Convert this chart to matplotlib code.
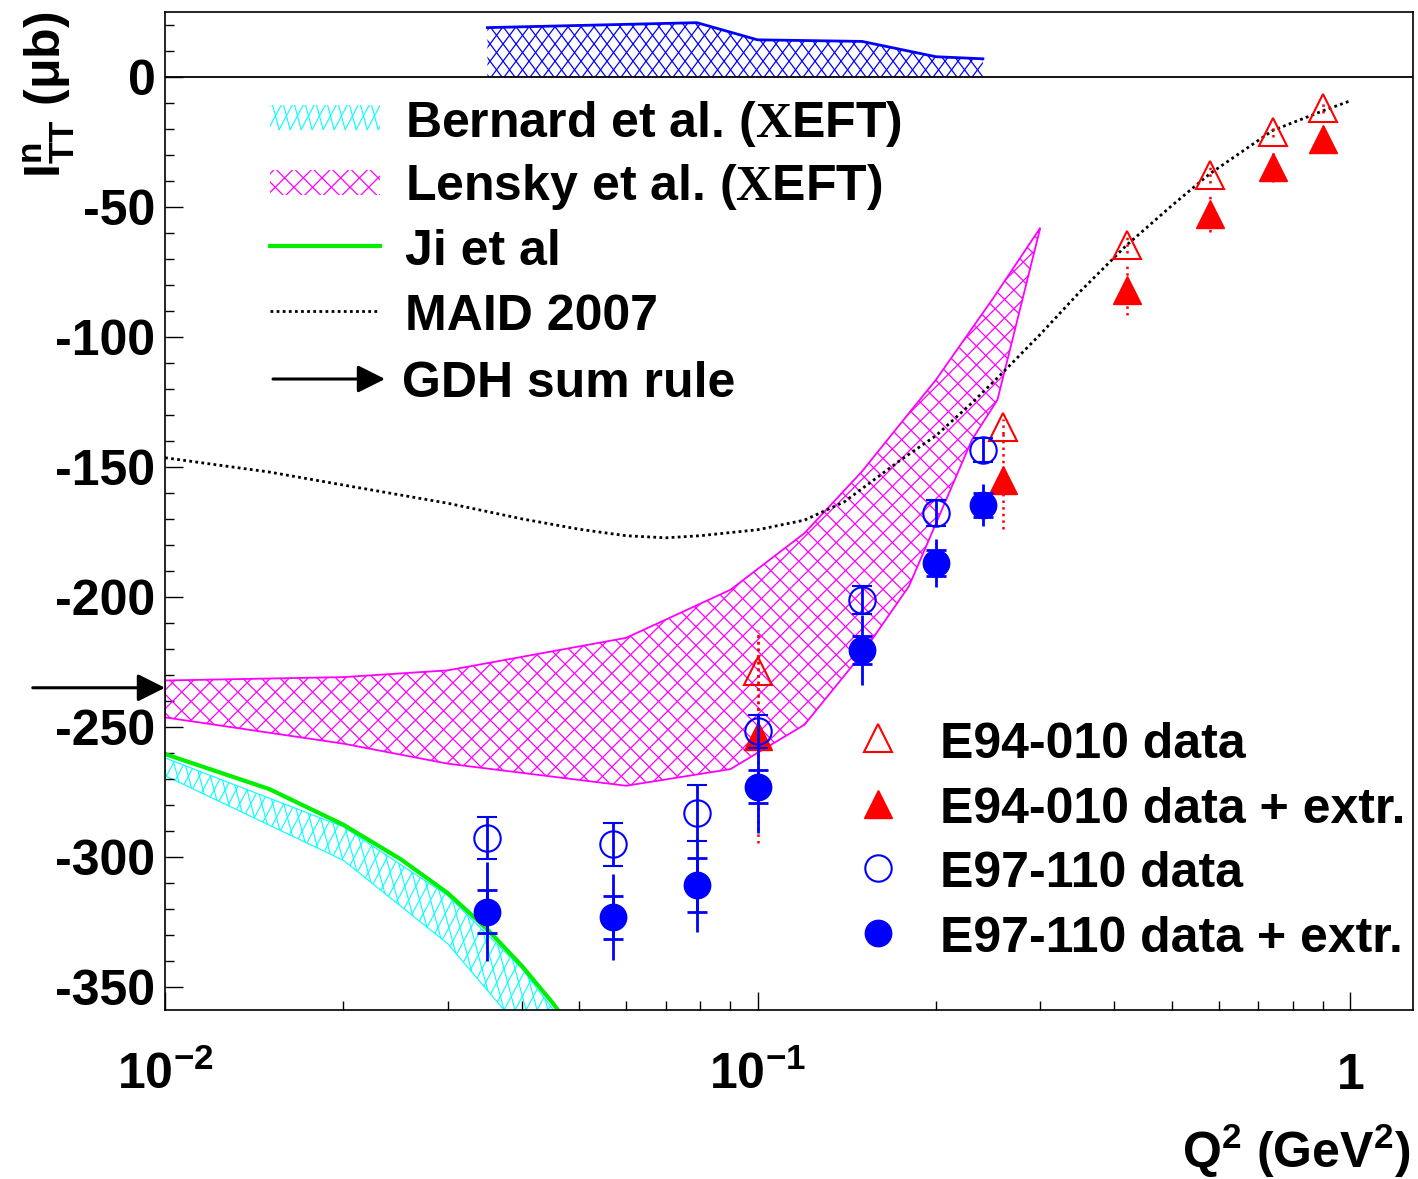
import numpy as np
import matplotlib
matplotlib.use("Agg")
import matplotlib.pyplot as plt
from matplotlib.collections import LineCollection
from matplotlib.ticker import MultipleLocator, LogLocator, NullFormatter

plt.rcParams["font.family"] = "Liberation Sans"
plt.rcParams["font.weight"] = "bold"
plt.rcParams["mathtext.fontset"] = "custom"
plt.rcParams["mathtext.rm"] = "Liberation Sans:bold"
plt.rcParams["mathtext.it"] = "Liberation Sans:bold"
plt.rcParams["mathtext.bf"] = "Liberation Sans:bold"
plt.rcParams["mathtext.tt"] = "Liberation Serif"
plt.rcParams["axes.unicode_minus"] = False

# --- E97-110 neutron I_TT ---
q2_e97 = [0.035, 0.057, 0.079, 0.10, 0.15, 0.20, 0.24]
itt_e97 = [-292.7, -295.3, -283.2, -251.8, -201.2, -167.6, -143.5]
itt_e97_stat = [8.0, 8.3, 10.6, 6.2, 5.4, 5.0, 4.7]
itt_e97_ext = [-321.2, -323.3, -310.9, -273.0, -220.4, -187.0, -164.6]
itt_e97_ext_stat = [8.3, 8.2, 10.5, 6.5, 5.4, 5.0, 4.7]
itt_e97_ext_tot = [19.0, 16.5, 18.0, 18.0, 13.5, 9.3, 8.0]

# systematic band (drawn above zero)
q2_syst = [0.035, 0.079, 0.10, 0.15, 0.20, 0.24]
syst_e97 = [19.0, 20.9, 14.3, 13.7, 7.8, 7.0]

# --- E94-010 ---
q2_e94 = [0.10, 0.26, 0.42, 0.58, 0.74, 0.90]
itt_e94 = [-228.5, -134.5, -64.7, -37.6, -21.2, -11.9]
itt_e94_err = [15, 3, 3, 3, 2, 2]
itt_e94_ext = [-253.7, -155.0, -82.0, -52.6, -34.5, -23.7]
itt_e94_ext_err = [41, 19, 9.6, 7, 6, 3]

# --- theory ---
q2_maid = [0.01, 0.015, 0.02, 0.03, 0.04, 0.05, 0.06, 0.07, 0.08, 0.10, 0.12,
           0.14, 0.174, 0.20, 0.23, 0.256, 0.30, 0.35, 0.42, 0.50, 0.58,
           0.74, 0.90, 1.0]
itt_maid = [-146.5, -152, -157, -164, -170, -174, -176.5, -177.3, -176.5,
            -174.2, -170.5, -163.5, -147.5, -138, -125.4, -115, -99, -82.6,
            -64.6, -49.5, -37.2, -20.6, -13.0, -9.2]

q2_ji = [0.01, 0.015, 0.02, 0.025, 0.03, 0.035, 0.04, 0.045, 0.05]
itt_ji = [-260.5, -274, -287.7, -301, -314, -328, -342, -356, -370]

q2_bern = [0.01, 0.02, 0.03, 0.04, 0.05]
bern_hi = [-262, -288.5, -315, -343, -372]
bern_lo = [-268.8, -301.4, -333.5, -367, -400]

q2_lensky_hi = [0.01, 0.02, 0.03, 0.06, 0.09, 0.12, 0.15, 0.18, 0.20, 0.25, 0.30]
lensky_hi = [-232.2, -230.9, -228.3, -215.8, -197.3, -175.5, -151.8, -129.4,
             -116.5, -85, -58]
q2_lensky_lo = [0.01, 0.02, 0.03, 0.06, 0.09, 0.12, 0.15, 0.18, 0.23, 0.254, 0.30]
lensky_lo = [-246.4, -256.5, -264.2, -272.7, -266.3, -249.2, -222, -196,
             -139.6, -124.2, -58]

gdh = -235

fig = plt.figure(figsize=(14.18, 11.79), dpi=100)
ax = fig.add_axes([0.1164, 0.1433, 0.8801, 0.8465])
ax.set_xscale("log")
ax.set_xlim(0.01, 1.277)
ax.set_ylim(-359, 25)
T = ax.transAxes
AX_W, AX_H = 1248.0, 998.0  # axes size in pixels


def hatch_lines(clip_patch, color, angles, step_px, lw=0.9):
    # ROOT style hatching: two families of lines, clipped to a patch
    segs = []
    for ang, sign in angles:
        shift = sign * AX_H / np.tan(np.radians(ang)) / AX_W
        for x0 in np.arange(-1.5, 2.5, step_px / AX_W):
            segs.append([(x0, 0), (x0 + shift, 1)])
    lc = LineCollection(segs, colors=color, linewidths=lw, transform=T)
    ax.add_collection(lc)
    lc.set_clip_path(clip_patch)


CYAN_HATCH = [(75, -1), (62, 1)]
MAG_HATCH = [(45, -1), (45, 1)]
BLUE_HATCH = [(53, -1), (53, 1)]

# bands
bern = ax.fill(q2_bern + q2_bern[::-1], bern_hi + bern_lo[::-1],
               facecolor="none", edgecolor="cyan", lw=0.8)[0]
hatch_lines(bern, "cyan", CYAN_HATCH, 11, lw=0.8)
lensky = ax.fill(q2_lensky_hi + q2_lensky_lo[::-1], lensky_hi + lensky_lo[::-1],
                 facecolor="none", edgecolor="magenta", lw=1.3)[0]
hatch_lines(lensky, "magenta", MAG_HATCH, 18.7)
syst = ax.fill(q2_syst + q2_syst[::-1], syst_e97 + [0] * len(q2_syst),
               facecolor="none", edgecolor="none")[0]
hatch_lines(syst, "blue", BLUE_HATCH, 13)
ax.plot(q2_syst, syst_e97, color="blue", lw=2)
ax.axhline(0, color="black", lw=1.3)

ax.plot(q2_ji, itt_ji, color="#00ee00", lw=3)
ax.plot(q2_maid, itt_maid, color="black", lw=2, ls=(0, (1, 1.2)))

# E94-010
eb = ax.errorbar(q2_e94, itt_e94_ext, yerr=itt_e94_ext_err, fmt="^", ms=20,
                 color="red", ecolor="red", elinewidth=1.8, capsize=0, zorder=5)
eb[2][0].set_linestyle(":")
eb = ax.errorbar(q2_e94, itt_e94, yerr=itt_e94_err, fmt="^", ms=20, mfc="none",
                 mec="red", mew=1.5, ecolor="red", elinewidth=1.8, capsize=0, zorder=5)
eb[2][0].set_linestyle(":")

# E97-110
ax.errorbar(q2_e97, itt_e97_ext, yerr=itt_e97_ext_tot, fmt="none",
            ecolor="blue", elinewidth=2, capsize=0, zorder=6)
ax.errorbar(q2_e97, itt_e97_ext, yerr=itt_e97_ext_stat, fmt="o", ms=19,
            color="blue", ecolor="blue", elinewidth=2, capsize=7, capthick=2, zorder=6)
ax.errorbar(q2_e97, itt_e97, yerr=itt_e97_stat, fmt="o", ms=19, mfc="none",
            mec="blue", mew=1.5, ecolor="blue", elinewidth=2, capsize=7,
            capthick=2, zorder=6)

# GDH arrow at the left axis
ax.annotate("", xy=(0.0, gdh), xytext=(-0.106, gdh),
            xycoords=ax.get_yaxis_transform(), annotation_clip=False,
            arrowprops=dict(arrowstyle="-|>", color="black", lw=2.2,
                            mutation_scale=42, shrinkA=0, shrinkB=0))

# axes styling
for s in ax.spines.values():
    s.set_linewidth(1.2)
ax.set_yticks(range(-350, 1, 50))
ax.set_yticklabels([str(v) for v in range(-350, 1, 50)])
ax.yaxis.set_minor_locator(MultipleLocator(10))
ax.set_xticks([0.01, 0.1, 1])
ax.set_xticklabels([r"$10^{-2}$", r"$10^{-1}$", r"$1$"])
ax.xaxis.set_minor_locator(LogLocator(base=10, subs=range(2, 10)))
ax.xaxis.set_minor_formatter(NullFormatter())
ax.tick_params(axis="both", which="major", direction="in", length=13, width=1,
               labelsize=36)
ax.tick_params(axis="both", which="minor", direction="in", length=6.5, width=1)
ax.tick_params(axis="y", pad=7)
ax.tick_params(axis="x", pad=57)
for lbl in ax.get_xticklabels():
    lbl.set_verticalalignment("baseline")

ax.set_ylabel(r"I$^{n}_{TT}$ (μb)", fontsize=36, fontweight="bold", loc="top")
ax.yaxis.set_label_coords(-0.0705, 1.0)
ax.set_xlabel(r"Q$^{2}$ (GeV$^{2}$)", fontsize=36, fontweight="bold", loc="right")
ax.xaxis.set_label_coords(0.998, -0.112)

# legend 1 (theory)
cyan_box = ax.fill([0.0841, 0.1723, 0.1723, 0.0841], [0.8818, 0.8818, 0.9068, 0.9068],
                   transform=T, facecolor="none", edgecolor="none")[0]
hatch_lines(cyan_box, "cyan", CYAN_HATCH, 11, lw=0.8)
mag_box = ax.fill([0.0841, 0.1723, 0.1723, 0.0841], [0.8166, 0.8166, 0.8417, 0.8417],
                  transform=T, facecolor="none", edgecolor="none")[0]
hatch_lines(mag_box, "magenta", MAG_HATCH, 18.7)
ax.plot([0.0841, 0.1723], [0.7655, 0.7655], transform=T, color="#00ee00", lw=3)
ax.plot([0.0841, 0.1723], [0.7004, 0.7004], transform=T, color="black", lw=2,
        ls=(0, (1, 1.2)))
ax.annotate("", xy=(0.1763, 0.6323), xytext=(0.0865, 0.6323), xycoords=T,
            arrowprops=dict(arrowstyle="-|>", color="black", lw=2.2,
                            mutation_scale=42, shrinkA=0, shrinkB=0))
leg1 = [r"Bernard et al. ($\mathtt{X}$EFT)", r"Lensky et al. ($\mathtt{X}$EFT)",
        "Ji et al", "MAID 2007", "GDH sum rule"]
for lab, yb, xt in zip(leg1, [0.8751, 0.8116, 0.7465, 0.6814, 0.6142],
                       [0.1923, 0.1923, 0.1923, 0.1923, 0.19]):
    ax.text(xt, yb, lab, transform=T, fontsize=36, va="baseline", ha="left")

# legend 2 (data)
ax.plot([0.5713], [0.2725], transform=T, marker="^", ms=20, mfc="none",
        mec="red", mew=1.5, clip_on=False)
ax.plot([0.5713], [0.2064], transform=T, marker="^", ms=20, color="red",
        clip_on=False)
ax.plot([0.5713], [0.142], transform=T, marker="o", ms=19, mfc="none",
        mec="blue", mew=1.5, clip_on=False)
ax.plot([0.5713], [0.0772], transform=T, marker="o", ms=19, color="blue",
        clip_on=False)
leg2 = ["E94-010 data", "E94-010 data + extr.", "E97-110 data",
        "E97-110 data + extr."]
for lab, yb in zip(leg2, [0.2525, 0.1874, 0.1232, 0.0581]):
    ax.text(0.621, yb, lab, transform=T, fontsize=36, va="baseline", ha="left")

fig.savefig("out.png", dpi=100)
